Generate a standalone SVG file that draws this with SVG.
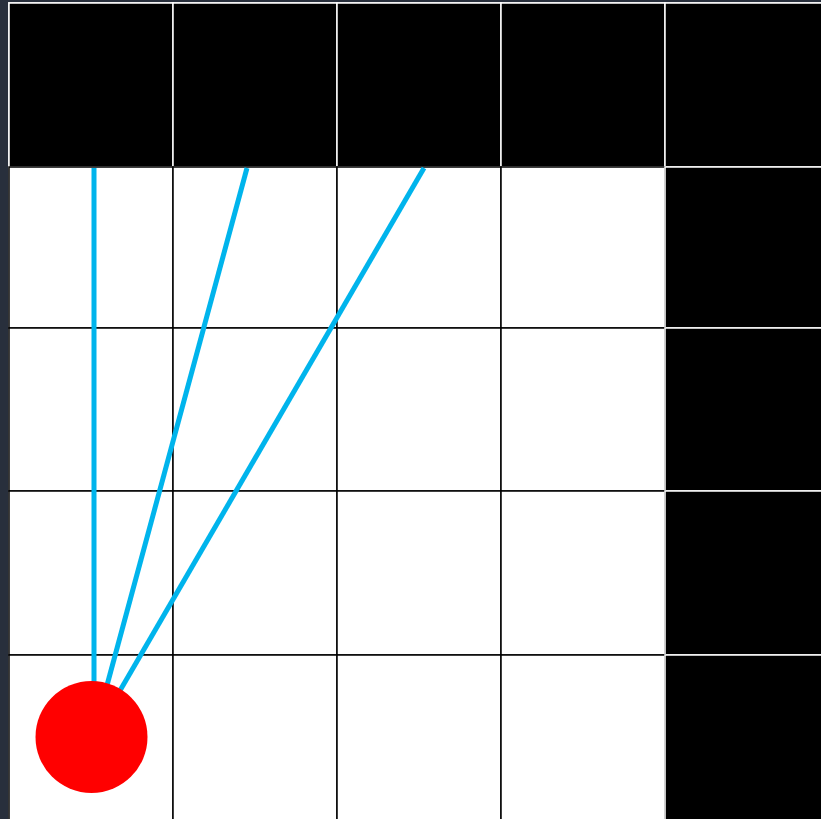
<svg xmlns="http://www.w3.org/2000/svg" width="821" height="819" viewBox="0 0 821 819">
<style>
.w{fill:#ffffff;stroke:#000000;stroke-width:1.5}
.b{fill:#000000;stroke:#ffffff;stroke-width:1.5}
.ray{stroke:#00b4ec;stroke-width:5;fill:none;stroke-linecap:butt}
</style>
<rect x="0" y="0" width="821" height="819" fill="#282f3c"/>
<rect x="8" y="2" width="830" height="830" fill="#cfcfcf"/>
<g id="grid">
<rect class="b" x="9" y="3" width="164" height="164"/>
<rect class="b" x="173" y="3" width="164" height="164"/>
<rect class="b" x="337" y="3" width="164" height="164"/>
<rect class="b" x="501" y="3" width="164" height="164"/>
<rect class="b" x="665" y="3" width="164" height="164"/>
<rect class="w" x="9" y="167" width="164" height="161"/>
<rect class="w" x="173" y="167" width="164" height="161"/>
<rect class="w" x="337" y="167" width="164" height="161"/>
<rect class="w" x="501" y="167" width="164" height="161"/>
<rect class="b" x="665" y="167" width="164" height="161"/>
<rect class="w" x="9" y="328" width="164" height="163"/>
<rect class="w" x="173" y="328" width="164" height="163"/>
<rect class="w" x="337" y="328" width="164" height="163"/>
<rect class="w" x="501" y="328" width="164" height="163"/>
<rect class="b" x="665" y="328" width="164" height="163"/>
<rect class="w" x="9" y="491" width="164" height="164"/>
<rect class="w" x="173" y="491" width="164" height="164"/>
<rect class="w" x="337" y="491" width="164" height="164"/>
<rect class="w" x="501" y="491" width="164" height="164"/>
<rect class="b" x="665" y="491" width="164" height="164"/>
<rect class="w" x="9" y="655" width="164" height="170"/>
<rect class="w" x="173" y="655" width="164" height="170"/>
<rect class="w" x="337" y="655" width="164" height="170"/>
<rect class="w" x="501" y="655" width="164" height="170"/>
<rect class="b" x="665" y="655" width="164" height="170"/>
</g>
<g id="connectors">
<line class="ray" x1="94" y1="737" x2="94" y2="168"/>
<line class="ray" x1="93" y1="737" x2="247" y2="168"/>
<line class="ray" x1="93" y1="737" x2="424" y2="168"/>
</g>
<g id="agent">
<circle cx="91.5" cy="737" r="56" fill="#ff0000"/>
</g>
</svg>
